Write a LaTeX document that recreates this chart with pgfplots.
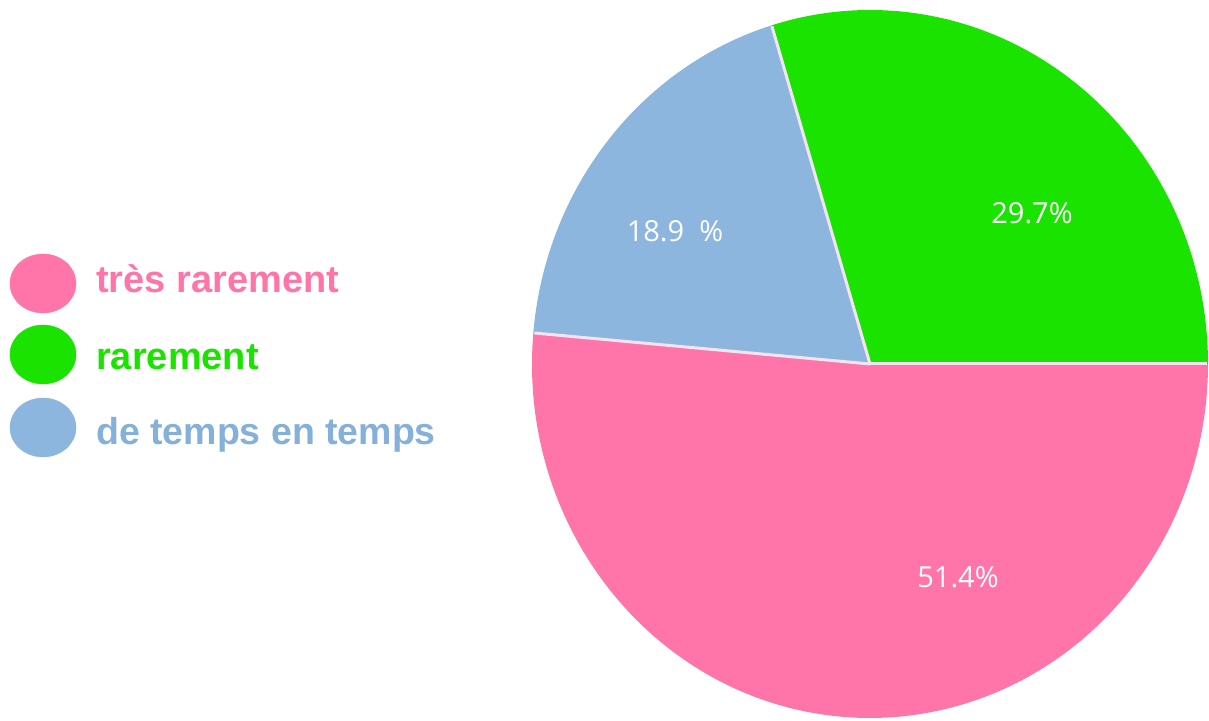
\documentclass[border=0pt]{standalone}
\usepackage{pgfplots}
\pgfplotsset{compat=1.18}
\usepackage{fontspec}
\setmainfont{Liberation Sans}
\newfontfamily\labfont{Open Sans}
\definecolor{cpink}{HTML}{FF75AA}
\definecolor{cgreen}{HTML}{1AE300}
\definecolor{cblue}{HTML}{8CB6DE}
\definecolor{ctblue}{HTML}{85B0DA}
\definecolor{csep}{HTML}{F2E4F2}
% shares (percent)
\def\vGreen{29.7}
\def\vBlue{18.9}
\def\vPink{51.4}
\begin{document}
\begin{tikzpicture}
\pgfmathsetmacro{\aA}{0}
\pgfmathsetmacro{\aB}{\aA+3.6*\vGreen}
\pgfmathsetmacro{\aC}{\aB+3.6*\vBlue}
\pgfmathsetmacro{\aD}{\aC+3.6*\vPink}
\begin{axis}[
  scale only axis, width=1209pt, height=720pt,
  xmin=0, xmax=1209, ymin=0, ymax=720,
  axis lines=none, clip=false,
]
\coordinate (SW) at (axis cs:0,0);
\coordinate (NE) at (axis cs:1209,720);
% pie slices (centre 870,356; radii 338 x 354 in axis units = pt)
\fill[cgreen] (axis cs:870,356) -- (axis cs:{870+338*cos(\aA)},{356+354*sin(\aA)}) arc[start angle=\aA, end angle=\aB, x radius=338pt, y radius=354pt] -- cycle;
\fill[cblue] (axis cs:870,356) -- (axis cs:{870+338*cos(\aB)},{356+354*sin(\aB)}) arc[start angle=\aB, end angle=\aC, x radius=338pt, y radius=354pt] -- cycle;
\fill[cpink] (axis cs:870,356) -- (axis cs:{870+338*cos(\aC)},{356+354*sin(\aC)}) arc[start angle=\aC, end angle=\aD, x radius=338pt, y radius=354pt] -- cycle;
% separators
\draw[csep, line width=3pt] (axis cs:870,356) -- (axis cs:{870+337*cos(\aA)},{356+353*sin(\aA)});
\draw[csep, line width=3pt] (axis cs:870,356) -- (axis cs:{870+337*cos(\aB)},{356+353*sin(\aB)});
\draw[csep, line width=3pt] (axis cs:870,356) -- (axis cs:{870+337*cos(\aC)},{356+353*sin(\aC)});
% slice labels
\node[text=white, inner sep=0pt, font=\labfont\fontsize{29}{33}\selectfont] at (axis cs:958,143) {51.4\%};
\node[text=white, inner sep=0pt, font=\labfont\fontsize{29}{33}\selectfont] at (axis cs:1032,507) {29.7\%};
\node[text=white, inner sep=0pt, font=\labfont\fontsize{29}{33}\selectfont] at (axis cs:675,489) {18.9\ \ \%};
% legend markers
\addplot[only marks, mark=*, mark size=29.5pt, color=cpink, mark options={xscale=1.12}] coordinates {(43,436.5)};
\addplot[only marks, mark=*, mark size=29.5pt, color=cgreen, mark options={xscale=1.12}] coordinates {(43,365.5)};
\addplot[only marks, mark=*, mark size=29.5pt, color=cblue, mark options={xscale=1.12}] coordinates {(43,292.5)};
% legend texts
\node[anchor=base west, inner sep=0pt, text=cpink, font=\bfseries\fontsize{38}{44}\selectfont] at (axis cs:96,427.3) {très rarement};
\node[anchor=base west, inner sep=0pt, text=cgreen, font=\bfseries\fontsize{38}{44}\selectfont] at (axis cs:96,350) {rarement};
\node[anchor=base west, inner sep=0pt, text=ctblue, font=\bfseries\fontsize{37.5}{44}\selectfont] at (axis cs:96,275) {de temps en temps};
\end{axis}
\pgfresetboundingbox
\useasboundingbox (SW) rectangle (NE);
\end{tikzpicture}
\end{document}
